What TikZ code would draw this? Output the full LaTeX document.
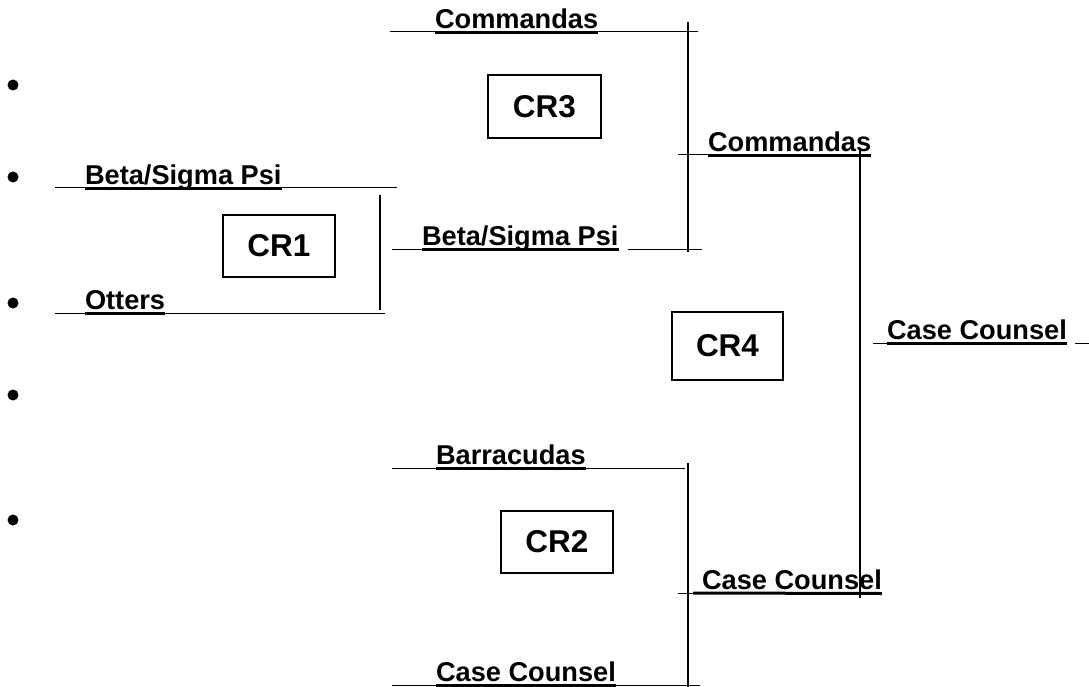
\documentclass[tikz,border=0pt]{standalone}
\usepackage{fontspec}
\setmainfont{Liberation Sans}
\begin{document}
\begin{tikzpicture}[x=1pt,y=-1pt,
  lbl/.style={font=\fontsize{27.2}{30}\selectfont\bfseries, inner sep=0pt, outer sep=0pt, anchor=base west},
  crbox/.style={draw, line width=1.3pt, font=\fontsize{31.5}{36}\selectfont\bfseries, minimum width=112pt, minimum height=62pt, inner sep=0pt},
  thinline/.style={line width=1pt},
  uline/.style={line width=3pt},
  vbar/.style={line width=1.5pt},
  dot/.style={circle, fill, inner sep=0pt, minimum size=11pt}]
\useasboundingbox (0,0) rectangle (1089,687);

% bullets
\foreach \yy [count=\i] in {85,177,303,395,520} \node[dot] (b\i) at (13,\yy) {};

% CR boxes
\node[crbox] (cr1) at (279,246) {CR1};
\node[crbox, minimum width=113pt, minimum height=63pt] (cr3) at (544.5,106.5) {CR3};
\node[crbox] (cr2) at (557,542) {CR2};
\node[crbox, minimum width=111pt, minimum height=68pt] (cr4) at (727.5,346) {CR4};

% ---- first round, left
\node[lbl] (bsL) at (85,184.5) {Beta/Sigma Psi};
\coordinate (bsLa) at (55,188); \coordinate (bsLb) at (397,188);
\draw[thinline] (bsLa) -- (bsLa -| bsL.west);
\draw[thinline] (bsLa -| bsL.east) -- (bsLb);
\draw[uline] ([yshift=-4pt]bsL.base west) -- ([yshift=-4pt]bsL.base east);

\node[lbl] (ot) at (85,309.5) {Otters};
\coordinate (ota) at (55,313); \coordinate (otb) at (385,313);
\draw[thinline] (ota) -- (ota -| ot.west);
\draw[thinline] (ota -| ot.east) -- (otb);
\draw[uline] ([yshift=-4pt]ot.base west) -- ([yshift=-4pt]ot.base east);

\coordinate (br1t) at (380,195); \coordinate (br1b) at (380,310);
\draw[line width=2pt] (br1t) -- (br1b);

% ---- top bracket (CR3)
\node[lbl] (cmT) at (435,28.5) {Commandas};
\coordinate (cmTa) at (390,32); \coordinate (cmTb) at (698,32);
\draw[thinline] (cmTa) -- (cmTa -| cmT.west);
\draw[thinline] (cmTa -| cmT.east) -- (cmTb);
\draw[uline] ([yshift=-4pt]cmT.base west) -- ([yshift=-4pt]cmT.base east);

\node[lbl] (bsM) at (422,245.5) {Beta/Sigma Psi};
\coordinate (bsMa) at (392,249); \coordinate (bsMc) at (628,249); \coordinate (bsMb) at (702,249);
\draw[thinline] (bsMa) -- (bsMa -| bsM.west);
\draw[thinline] (bsMc) -- (bsMb);
\draw[uline] ([yshift=-4pt]bsM.base west) -- ([yshift=-4pt]bsM.base east);

\coordinate (br3t) at (688,22); \coordinate (br3b) at (688,252);
\draw[vbar] (br3t) -- (br3b);

% ---- bottom bracket (CR2)
\node[lbl] (ba) at (436,464.5) {Barracudas};
\coordinate (baa) at (392,468); \coordinate (bab) at (685,468);
\draw[thinline] (baa) -- (baa -| ba.west);
\draw[thinline] (baa -| ba.east) -- (bab);
\draw[uline] ([yshift=-4pt]ba.base west) -- ([yshift=-4pt]ba.base east);

\node[lbl] (ccB) at (436,681.5) {Case Counsel};
\coordinate (ccBa) at (392,685); \coordinate (ccBb) at (700,685);
\draw[thinline] (ccBa) -- (ccBa -| ccB.west);
\draw[thinline] (ccBa -| ccB.east) -- (ccBb);
\draw[uline] ([yshift=-4pt]ccB.base west) -- ([yshift=-4pt]ccB.base east);

\coordinate (br2t) at (688,463); \coordinate (br2b) at (688,687);
\draw[vbar] (br2t) -- (br2b);

% ---- second round (CR4)
\node[lbl] (cmR) at (708,151.5) {Commandas};
\coordinate (cmRa) at (678,155);
\draw[thinline] (cmRa) -- (cmRa -| cmR.west);
\draw[uline] ([yshift=-4pt]cmR.base west) -- ([yshift=-4pt]cmR.base east);

\node[lbl] (ccM) at (702,589.5) {Case Counsel};
\coordinate (ccMa) at (678,593); \coordinate (ccMu) at (693,593);
\draw[thinline] (ccMa) -- (ccMu);
\draw[uline] (ccMu) -- ([yshift=-4pt]ccM.base east);

\coordinate (br4t) at (860,148); \coordinate (br4b) at (860,598);
\draw[vbar] (br4t) -- (br4b);

% ---- final
\node[lbl] (ccR) at (887,339.5) {Case Counsel};
\coordinate (ccRa) at (873,343); \coordinate (ccRc) at (1075,343); \coordinate (ccRb) at (1089,343);
\draw[thinline] (ccRa) -- (ccRa -| ccR.west);
\draw[thinline] (ccRc) -- (ccRb);
\draw[uline] ([yshift=-4pt]ccR.base west) -- ([yshift=-4pt]ccR.base east);
\end{tikzpicture}
\end{document}
